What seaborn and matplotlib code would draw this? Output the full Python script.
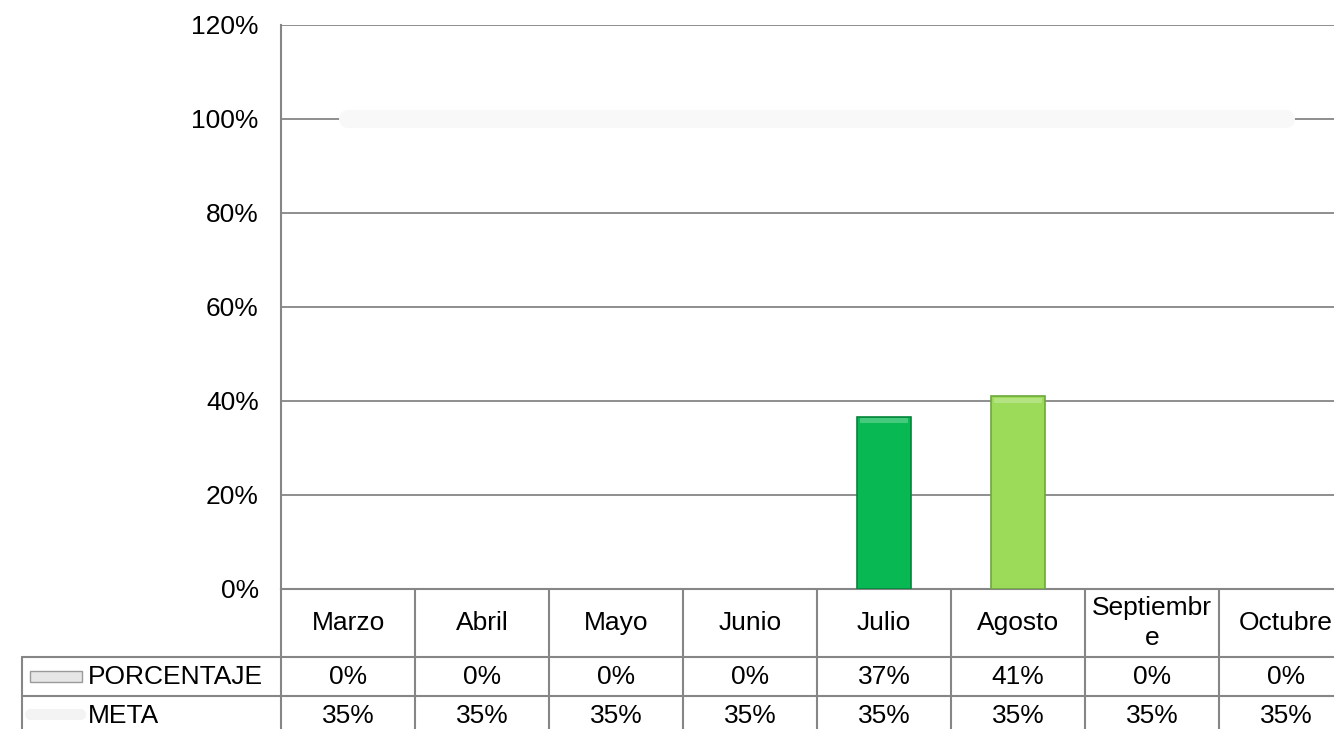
import numpy as np
import pandas as pd
import matplotlib.pyplot as plt
import matplotlib.transforms as mtransforms
from matplotlib.patches import Rectangle
import seaborn as sns

meses = ['Marzo', 'Abril', 'Mayo', 'Junio', 'Julio', 'Agosto', 'Septiembre', 'Octubre']
meses_tabla = ['Marzo', 'Abril', 'Mayo', 'Junio', 'Julio', 'Agosto', 'Septiembr\ne', 'Octubre']
porcentaje = [0.0, 0.0, 0.0, 0.0, 0.367, 0.41, 0.0, 0.0]
meta = [0.35, 0.35, 0.35, 0.35, 0.35, 0.35, 0.35, 0.35]
colores = ['#ffffff', '#ffffff', '#ffffff', '#ffffff', '#08b852', '#9bdb59', '#ffffff', '#ffffff']
bordes = ['none', 'none', 'none', 'none', '#06843b', '#6ea83c', 'none', 'none']

df = pd.DataFrame({'mes': meses, 'PORCENTAJE': porcentaje, 'META': meta})

sns.set_theme(style='white')
plt.rcParams['font.family'] = ['Liberation Sans', 'DejaVu Sans']
plt.rcParams['text.color'] = 'black'
plt.rcParams['ytick.color'] = 'black'
FS = 19
GRIS = '#868686'

W, H = 1334, 729
fig = plt.figure(figsize=(W / 100, H / 100), dpi=100)
fx = lambda p: p / W
fy = lambda p: 1 - p / H
ax = fig.add_axes([fx(281), fy(589), fx(1353) - fx(281), fy(25) - fy(589)])

sns.barplot(data=df, x='mes', y='PORCENTAJE', hue='mes', palette=colores,
            legend=False, width=0.4, saturation=1, ax=ax, zorder=3)
for p, ec in zip(ax.patches, bordes):
    p.set_edgecolor(ec)
    p.set_linewidth(1.2 if ec != 'none' else 0)
    if ec != 'none' and p.get_height() > 0:
        # brillo arriba, estilo bisel
        x0, w, h = p.get_x(), p.get_width(), p.get_height()
        ax.add_patch(Rectangle((x0 + w * 0.05, h - 0.014), w * 0.9, 0.01,
                               facecolor='white', alpha=0.25, lw=0, zorder=4))

ax.set_xlim(-0.5, 7.5)
ax.set_ylim(0, 1.2)
ax.set_yticks(np.arange(0, 1.21, 0.2))
ax.set_yticklabels([f'{int(round(v * 100))}%' for v in np.arange(0, 1.21, 0.2)], fontsize=FS)
ax.tick_params(axis='y', length=0, pad=16, labelcolor='black')
ax.set_xticks([])
ax.set_xlabel('')
ax.set_ylabel('')
ax.yaxis.grid(True, color=GRIS, lw=1.3, zorder=0)
ax.set_axisbelow(True)
for s in ['top', 'right']:
    ax.spines[s].set_visible(False)
ax.spines['left'].set_color(GRIS)
ax.spines['left'].set_linewidth(1.5)
ax.spines['bottom'].set_color(GRIS)
ax.spines['bottom'].set_linewidth(1.5)

# META en eje secundario
ax2 = ax.twinx()
sns.lineplot(x=np.arange(len(meses)), y=meta, ax=ax2, color='#f8f8f8', lw=13,
             solid_capstyle='round')
ax2.set_ylim(0, 0.42)
ax2.axis('off')

# tabla de datos
tr = mtransforms.blended_transform_factory(ax.transData, fig.transFigure)
n = len(meses)
kw = dict(color=GRIS, lw=1.5, clip_on=False)
for i in range(n + 1):
    ax.plot([i - 0.5, i - 0.5], [fy(589), 0], transform=tr, **kw)
for yy in [657, 696]:
    fig.add_artist(plt.Line2D([fx(22), 1.02], [fy(yy), fy(yy)], **kw))
fig.add_artist(plt.Line2D([fx(22), fx(22)], [fy(657), 0], **kw))

for i in range(n):
    ax.text(i, fy(623), meses_tabla[i], transform=tr, ha='center', va='center',
            fontsize=FS, linespacing=1.3)
    ax.text(i, fy(677), f'{int(round(porcentaje[i] * 100))}%', transform=tr,
            ha='center', va='center', fontsize=FS)
    ax.text(i, fy(716), f'{int(round(meta[i] * 100))}%', transform=tr,
            ha='center', va='center', fontsize=FS)

fig.text(fx(88), fy(677), 'PORCENTAJE', ha='left', va='center', fontsize=FS)
fig.text(fx(88), fy(716), 'META', ha='left', va='center', fontsize=FS)
fig.add_artist(Rectangle((fx(30), fy(682)), fx(52), 11 / H, facecolor='#e6e6e6',
                         edgecolor='#9a9a9a', lw=1))
fig.add_artist(plt.Line2D([fx(30), fx(80)], [fy(714), fy(714)], color='#f3f3f3',
                          lw=8, solid_capstyle='round'))

fig.savefig('out.png', dpi=100)
